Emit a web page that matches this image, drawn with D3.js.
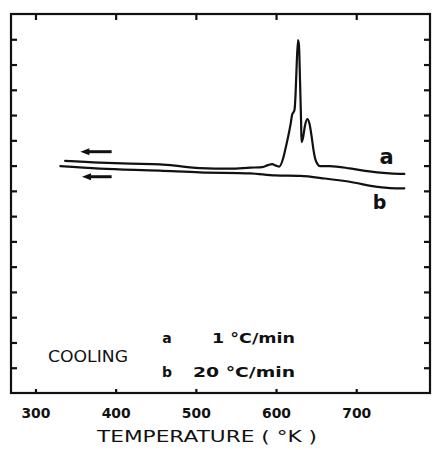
<!DOCTYPE html>
<html>
<head>
<meta charset="utf-8">
<script src="https://cdn.jsdelivr.net/npm/d3@7"></script>
<style>
  html, body { margin: 0; padding: 0; background: #fff; }
  svg { display: block; }
  text { font-family: "DejaVu Sans", sans-serif; fill: #111; }
</style>
</head>
<body>
<svg id="chart" width="435" height="450"></svg>
<script>
// ---- data (temperature in K, signal in arbitrary units) ----
const xTicks = [300, 400, 500, 600, 700];
const xTickLabels = ["300", "400", "500", "600", "700"];
const yTicks = [1,2,3,4,5,6,7,8,9,10,11,12,13,14];

const curveA_T = [337, 380, 418, 455, 474, 490, 505, 543, 568, 583, 590, 595, 600, 604, 609, 612, 615, 618, 620, 623, 624.3, 625.5, 627.4, 628.6, 629.9, 631.2, 631.8, 633.6, 636, 639, 641.8, 644.5, 646.7, 648.6, 651.7, 655, 667, 692, 711, 726, 742, 760];
const curveA_V = [9.19, 9.12, 9.08, 9.05, 9.00, 8.94, 8.90, 8.88, 8.92, 8.94, 9.02, 9.06, 9.00, 8.96, 9.30, 9.70, 10.13, 10.61, 11.00, 11.20, 11.79, 12.78, 13.97, 13.77, 12.39, 10.80, 9.93, 10.09, 10.57, 10.84, 10.65, 10.13, 9.62, 9.30, 9.06, 8.98, 8.98, 8.89, 8.79, 8.73, 8.69, 8.67];

const curveB_T = [331, 380, 455, 505, 568, 599, 630, 661, 692, 726, 742, 760];
const curveB_V = [8.98, 8.88, 8.80, 8.73, 8.69, 8.61, 8.59, 8.49, 8.36, 8.16, 8.11, 8.10];

const curveLabels = ["a", "b"];
const legendKeys = ["a", "b"];
const legendRates = ["1 °C/min", "20 °C/min"];
const modeLabel = "COOLING";
const xTitle = "TEMPERATURE ( °K )";

// ---- layout ----
const svg = d3.select("#chart");
const L = 11, R = 430, T = 14, B = 393;
const x = d3.scaleLinear().domain([269.5, 792]).range([L, R]);
const y = d3.scaleLinear().domain([0, 15]).range([B, T]);
const ink = "#111";

// frame
svg.append("rect")
  .attr("x", L).attr("y", T).attr("width", R - L).attr("height", B - T)
  .attr("fill", "none").attr("stroke", ink).attr("stroke-width", 2.2);

// axes (ticks inward)
const gl = svg.append("g").attr("transform", `translate(${L},0)`)
  .call(d3.axisLeft(y).tickValues(yTicks).tickSize(-6).tickFormat(""));
const gr = svg.append("g").attr("transform", `translate(${R},0)`)
  .call(d3.axisRight(y).tickValues(yTicks).tickSize(-6).tickFormat(""));
const gt = svg.append("g").attr("transform", `translate(0,${T})`)
  .call(d3.axisTop(x).tickValues(xTicks).tickSize(-6).tickFormat(""));
const gb = svg.append("g").attr("transform", `translate(0,${B})`)
  .call(d3.axisBottom(x).tickValues(xTicks).tickSize(-4).tickPadding(15)
        .tickFormat((d, i) => xTickLabels[i]));
[gl, gr, gt, gb].forEach(g => {
  g.select(".domain").remove();
  g.selectAll(".tick line").attr("stroke", ink).attr("stroke-width", 2.2);
});
gb.selectAll(".tick text")
  .style("font-family", "'DejaVu Sans', sans-serif")
  .attr("font-size", 14).attr("font-weight", "bold")
  .attr("textLength", 29).attr("lengthAdjust", "spacingAndGlyphs")
  .attr("fill", ink);

// x title
svg.append("text")
  .attr("x", 207).attr("y", 441.5).attr("text-anchor", "middle")
  .attr("font-size", 16).attr("textLength", 220).attr("lengthAdjust", "spacingAndGlyphs")
  .text(xTitle);

// curves
const line = d3.line().x(d => x(d[0])).y(d => y(d[1])).curve(d3.curveMonotoneX);
const dataA = curveA_T.map((t, i) => [t, curveA_V[i]]);
const dataB = curveB_T.map((t, i) => [t, curveB_V[i]]);
[dataA, dataB].forEach(d => {
  svg.append("path").datum(d).attr("d", line)
    .attr("fill", "none").attr("stroke", ink).attr("stroke-width", 2.2)
    .attr("stroke-linejoin", "round").attr("stroke-linecap", "round");
});

// curve labels
const labelPos = [[738, 9.05], [729, 7.3]];
curveLabels.forEach((s, i) => {
  svg.append("text")
    .attr("x", x(labelPos[i][0])).attr("y", y(labelPos[i][1]))
    .attr("text-anchor", "middle").attr("font-size", i === 0 ? 21 : 19)
    .attr("font-weight", "bold").text(s);
});

// direction arrows (pointing to lower temperature)
const arrows = [[395, 356, 9.55], [395, 358, 8.56]];
arrows.forEach(a => {
  const x0 = x(a[0]), x1 = x(a[1]), yy = y(a[2]);
  svg.append("line")
    .attr("x1", x0).attr("x2", x1 + 6)
    .attr("y1", yy).attr("y2", yy)
    .attr("stroke", ink).attr("stroke-width", 3);
  svg.append("path")
    .attr("d", `M${x1},${yy} L${x1 + 9},${yy - 3.5} L${x1 + 9},${yy + 3.5} Z`)
    .attr("fill", ink);
});

// annotation text
svg.append("text").attr("x", 48).attr("y", 362).attr("font-size", 15)
  .attr("textLength", 80).attr("lengthAdjust", "spacingAndGlyphs").text(modeLabel);

const legY = [343, 377];
const rateX = [212, 193];
const rateW = [83, 102];
legendKeys.forEach((k, i) => {
  svg.append("text").attr("x", 167).attr("y", legY[i]).attr("text-anchor", "middle")
    .attr("font-size", 14).attr("font-weight", "bold").text(k);
  svg.append("text").attr("x", rateX[i]).attr("y", legY[i]).attr("font-size", 14)
    .attr("font-weight", "bold")
    .attr("textLength", rateW[i]).attr("lengthAdjust", "spacingAndGlyphs").text(legendRates[i]);
});
</script>
</body>
</html>
